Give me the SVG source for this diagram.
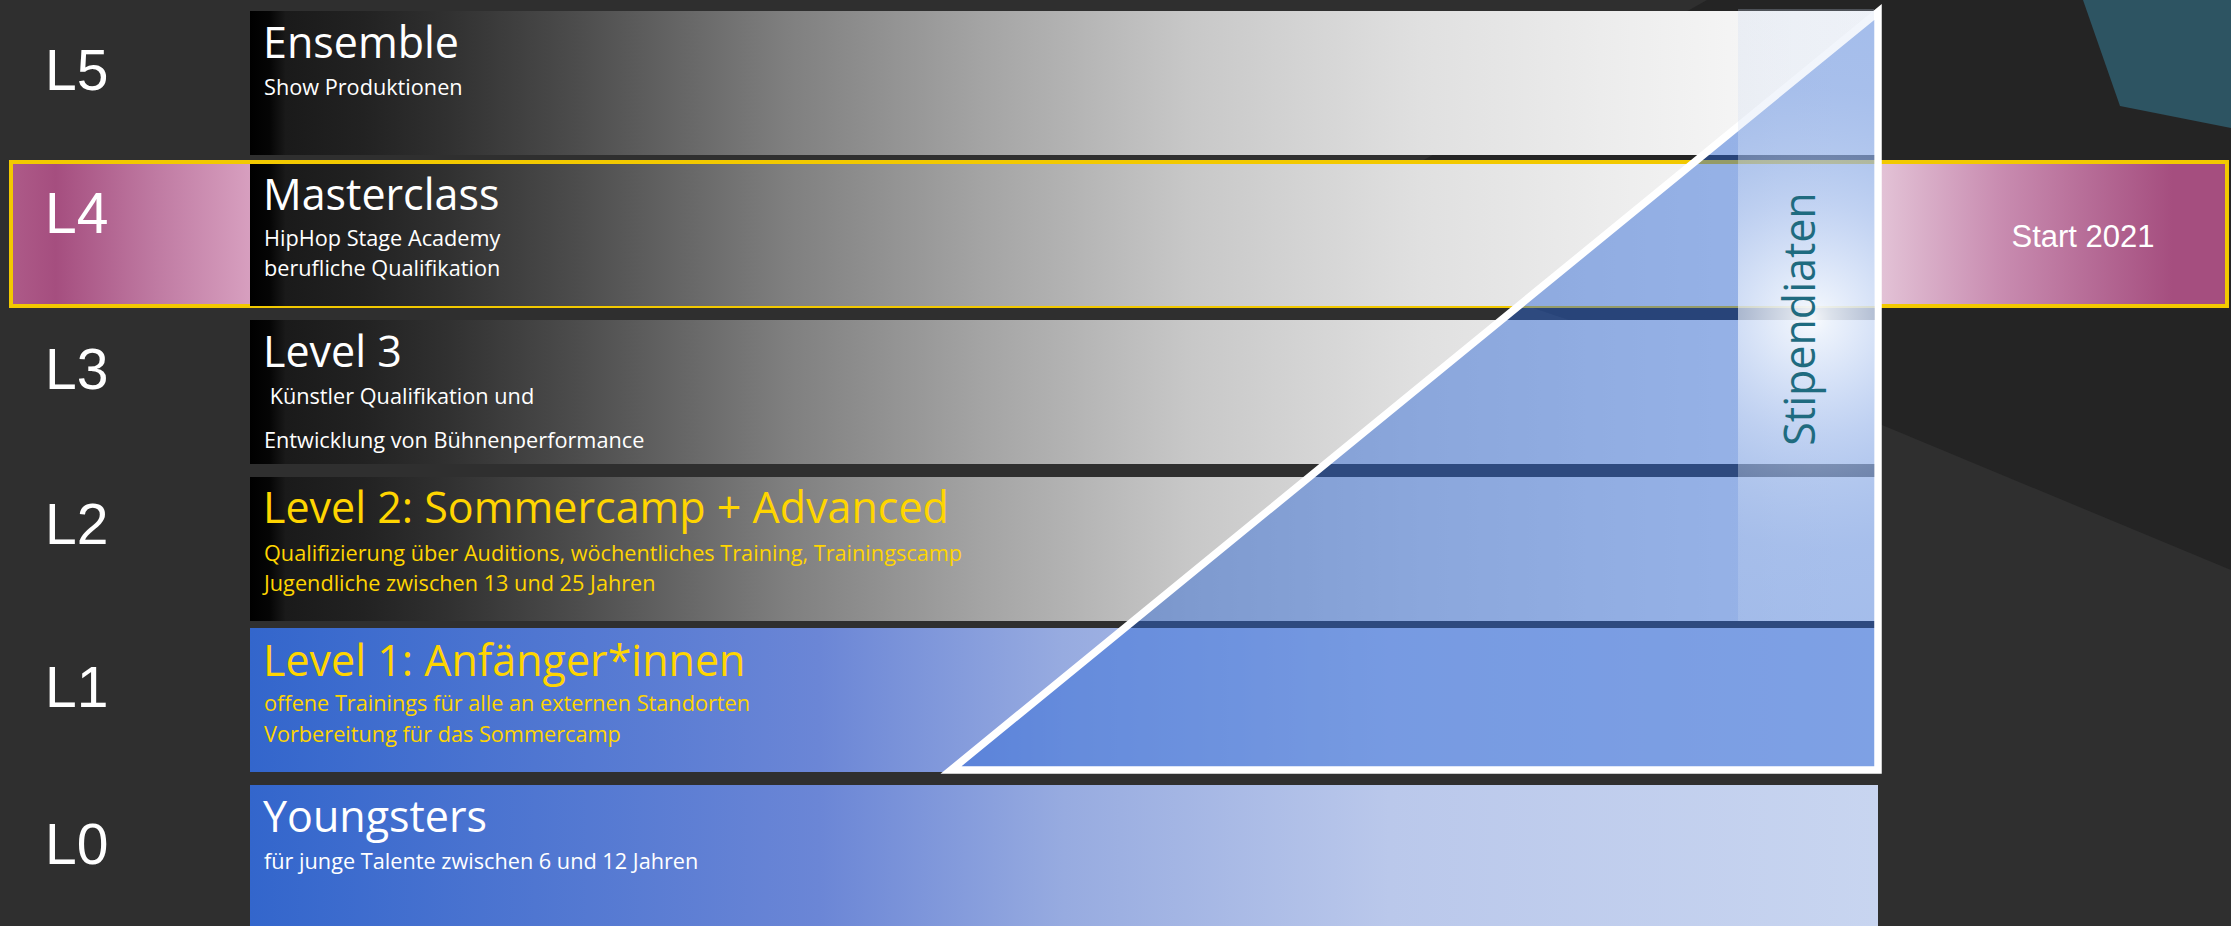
<svg xmlns="http://www.w3.org/2000/svg" width="2231" height="926" viewBox="0 0 2231 926">
<style>
.lvl{font-family:"Liberation Sans",Arial,sans-serif;font-size:57px;fill:#ffffff}
.ttl{font-family:"Open Sans","Noto Sans",sans-serif;font-size:43px;fill:#ffffff}
.sub{font-family:"Open Sans","Noto Sans",sans-serif;font-size:21.7px;fill:#ffffff}
.yel{fill:#ffd500}
</style>
<defs>
<linearGradient id="gray" x1="0" y1="0" x2="1" y2="0">
<stop offset="0" stop-color="#000000"/>
<stop offset="0.012" stop-color="#050505"/>
<stop offset="0.022" stop-color="#1a1a1a"/>
<stop offset="0.07" stop-color="#222222"/>
<stop offset="0.12" stop-color="#303030"/>
<stop offset="0.2" stop-color="#4c4c4c"/>
<stop offset="0.33" stop-color="#7f7f7f"/>
<stop offset="0.45" stop-color="#a4a4a4"/>
<stop offset="0.58" stop-color="#c8c8c8"/>
<stop offset="0.72" stop-color="#e0e0e0"/>
<stop offset="0.85" stop-color="#eeeeee"/>
<stop offset="0.95" stop-color="#f8f8f8"/>
<stop offset="1" stop-color="#fafafa"/>
</linearGradient>
<linearGradient id="blue" x1="0" y1="0" x2="1" y2="0">
<stop offset="0" stop-color="#3366cc"/>
<stop offset="0.35" stop-color="#6b86d6"/>
<stop offset="0.5" stop-color="#97abe0"/>
<stop offset="0.7" stop-color="#bac8eb"/>
<stop offset="1" stop-color="#c8d5f0"/>
</linearGradient>
<linearGradient id="pinkL" x1="0" y1="0" x2="1" y2="0">
<stop offset="0" stop-color="#ad5a88"/>
<stop offset="0.18" stop-color="#a54e7f"/>
<stop offset="0.6" stop-color="#bf7aa2"/>
<stop offset="1" stop-color="#d79fbf"/>
</linearGradient>
<linearGradient id="pinkR" x1="0" y1="0" x2="1" y2="0">
<stop offset="0" stop-color="#e4c5d8"/>
<stop offset="0.35" stop-color="#c98db1"/>
<stop offset="0.85" stop-color="#a54e7f"/>
<stop offset="1" stop-color="#a54e7f"/>
</linearGradient>
<radialGradient id="glow" gradientUnits="userSpaceOnUse" cx="1812" cy="318" r="320">
<stop offset="0" stop-color="#ffffff" stop-opacity="0.95"/>
<stop offset="0.06" stop-color="#fbfdff" stop-opacity="0.85"/>
<stop offset="0.2" stop-color="#f4f8fe" stop-opacity="0.68"/>
<stop offset="0.37" stop-color="#e8effb" stop-opacity="0.5"/>
<stop offset="0.5" stop-color="#dde7f7" stop-opacity="0.4"/>
<stop offset="0.72" stop-color="#cfdcf2" stop-opacity="0.28"/>
<stop offset="1" stop-color="#c8d7f0" stop-opacity="0.25"/>
</radialGradient>
</defs>

<g id="background">
<rect x="0" y="0" width="2231" height="926" fill="#2f2f2f"/>
<polygon points="1707,0 2231,0 2231,570 1882,425 1300,230" fill="#242424"/>
<polygon points="2083,0 2120,106 2231,128 2231,0" fill="#2d5462"/>
</g>

<g id="level-L5">
<rect x="250" y="11" width="1625" height="144" fill="url(#gray)"/>
<text class="lvl" x="45" y="90">L5</text>
<text class="ttl" x="263" y="58">Ensemble</text>
<text class="sub" x="264" y="95">Show Produktionen</text>
</g>

<g id="level-L4">
<rect x="11" y="162" width="2216" height="144" fill="#a54e7f" stroke="#f2c900" stroke-width="4"/>
<rect x="13" y="164" width="237" height="140" fill="url(#pinkL)"/>
<rect x="1875" y="164" width="350" height="140" fill="url(#pinkR)"/>
<rect x="250" y="164" width="1625" height="142" fill="url(#gray)"/>
<text class="lvl" x="45" y="233">L4</text>
<text class="ttl" x="263" y="210">Masterclass</text>
<text class="sub" x="264" y="246">HipHop Stage Academy</text>
<text class="sub" x="264" y="276">berufliche Qualifikation</text>
<text x="2083" y="247" text-anchor="middle" font-family="Liberation Sans, Arial, sans-serif" font-size="31" fill="#ffffff">Start 2021</text>
</g>

<g id="level-L3">
<rect x="250" y="320" width="1625" height="144" fill="url(#gray)"/>
<text class="lvl" x="45" y="389">L3</text>
<text class="ttl" x="263" y="367">Level 3</text>
<text class="sub" x="264" y="404" xml:space="preserve"> Künstler Qualifikation und</text>
<text class="sub" x="264" y="448">Entwicklung von Bühnenperformance</text>
</g>

<g id="level-L2">
<rect x="250" y="477" width="1625" height="144" fill="url(#gray)"/>
<text class="lvl" x="45" y="544">L2</text>
<text class="ttl yel" x="263" y="523">Level 2: Sommercamp + Advanced</text>
<text class="sub yel" x="264" y="561">Qualifizierung über Auditions, wöchentliches Training, Trainingscamp</text>
<text class="sub yel" x="264" y="591">Jugendliche zwischen 13 und 25 Jahren</text>
</g>

<g id="level-L1">
<rect x="250" y="628" width="1625" height="144" fill="url(#blue)"/>
<text class="lvl" x="45" y="707">L1</text>
<text class="ttl yel" x="263" y="676">Level 1: Anfänger*innen</text>
<text class="sub yel" x="264" y="711">offene Trainings für alle an externen Standorten</text>
<text class="sub yel" x="264" y="742">Vorbereitung für das Sommercamp</text>
</g>

<g id="level-L0">
<rect x="250" y="785" width="1628" height="141" fill="url(#blue)"/>
<text class="lvl" x="45" y="864">L0</text>
<text class="ttl" x="263" y="832">Youngsters</text>
<text class="sub" x="264" y="869">für junge Talente zwischen 6 und 12 Jahren</text>
</g>

<g id="connectors">
<polygon id="triangle" points="951,770 1878,770 1878,12" fill="rgb(45,105,215)" fill-opacity="0.48" stroke="#ffffff" stroke-width="7.5" stroke-linejoin="miter" stroke-miterlimit="10"/>
</g>

<g id="stipendiaten">
<rect x="1738" y="9" width="136" height="612" fill="url(#glow)"/>
<text x="0" y="0" transform="translate(1815,319) rotate(-90)" text-anchor="middle" font-family="Open Sans, Noto Sans, sans-serif" font-size="43" fill="#1f6b7f">Stipendiaten</text>
</g>
</svg>
